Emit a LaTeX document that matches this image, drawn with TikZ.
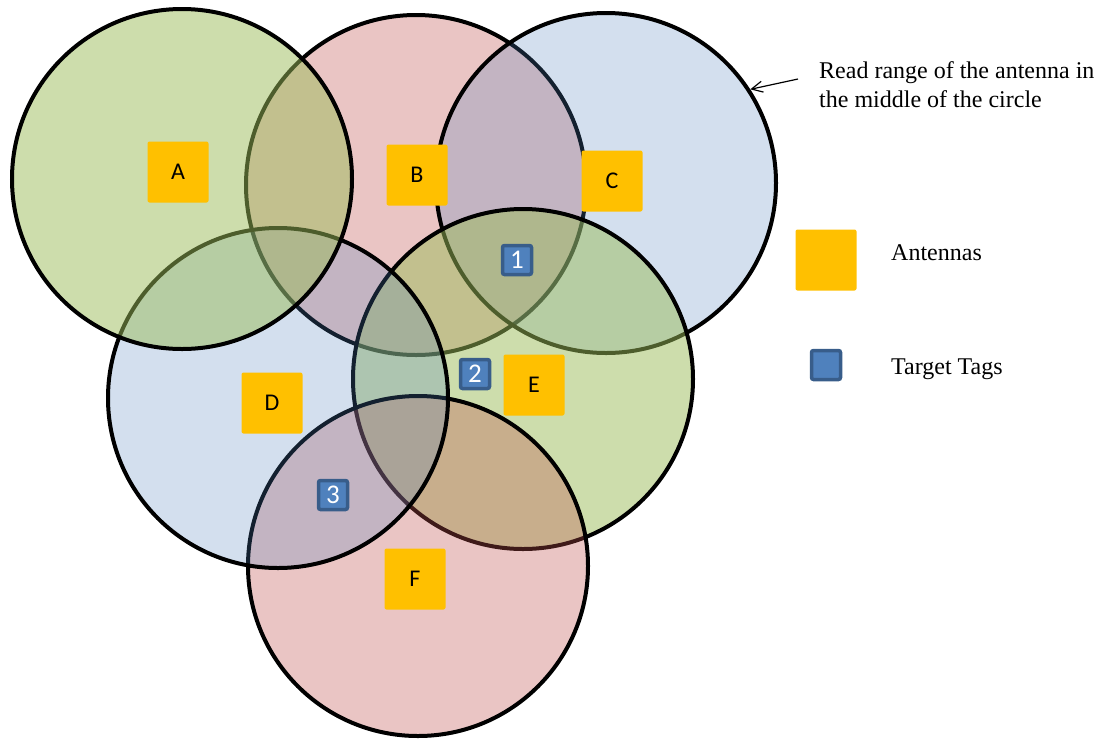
\documentclass[tikz,border=0pt]{standalone}
\usepackage{fontspec}
\setmainfont{Liberation Serif}
\newfontfamily\labelfont{Carlito}
\usetikzlibrary{arrows.meta}

\definecolor{rangegreen}{RGB}{155,187,89}
\definecolor{rangered}{RGB}{192,80,77}
\definecolor{rangeblue}{RGB}{79,129,189}
\definecolor{antennafill}{RGB}{255,192,0}
\definecolor{tagfill}{RGB}{79,129,189}
\definecolor{tagline}{RGB}{56,93,138}

\begin{document}
\begin{tikzpicture}[x=1pt, y=-1pt,
  readzone/.style={circle, draw=black, line width=4pt, minimum size=340pt, inner sep=0pt},
  greenzone/.style={readzone, fill=rangegreen, fill opacity=0.5},
  redzone/.style={readzone, fill=rangered, fill opacity=0.33},
  bluezone/.style={readzone, fill=rangeblue, fill opacity=0.25},
  antennabox/.style={rectangle, rounded corners=2pt, fill=antennafill,
    minimum size=61pt, inner sep=0pt, font=\labelfont\fontsize{24}{24}\selectfont},
  tagbox/.style={rectangle, rounded corners=2pt, fill=tagfill, draw=tagline,
    line width=3.5pt, minimum size=29pt, inner sep=0pt, text=white,
    font=\labelfont\fontsize{27}{27}\selectfont},
  legendtext/.style={anchor=base west, inner sep=0pt, font=\fontsize{24}{29}\selectfont},
]
\useasboundingbox (0,0) rectangle (1111,740);

% read ranges, back to front
\node[redzone]   (cB) at (416,185) {};
\node[bluezone]  (cC) at (606,183) {};
\node[greenzone] (cE) at (523,379) {};
\node[redzone]   (cF) at (418,566) {};
\node[bluezone]  (cD) at (278,398) {};
\node[greenzone] (cA) at (182,179) {};

% antennas
\node[antennabox] (aA) at (178,172) {A};
\node[antennabox] (aB) at (417,175) {B};
\node[antennabox] (aC) at (612,181) {C};
\node[antennabox] (aD) at (272,403) {D};
\node[antennabox] (aE) at (534,385) {E};
\node[antennabox] (aF) at (415,579) {F};

% target tags
\node[tagbox] (t1) at (517,260) {1};
\node[tagbox] (t2) at (475,374) {2};
\node[tagbox] (t3) at (333,495) {3};

% annotation
\node[anchor=north west, inner sep=0pt, align=left,
      font=\fontsize{24}{29}\selectfont] (note) at (819,61.5)
  {Read range of the antenna in\\the middle of the circle};
\coordinate (notetail) at (798,79);
\draw[line width=1.2pt, -{Straight Barb[length=11pt,width=11pt]}] (notetail) -- (cC.33);

% legend
\node[antennabox] (legA) at (826,260) {};
\node[legendtext] (legAtext) at (891,260) {Antennas};
\node[tagbox] (legT) at (826,365) {};
\node[legendtext] (legTtext) at (891,374) {Target Tags};
\end{tikzpicture}
\end{document}
